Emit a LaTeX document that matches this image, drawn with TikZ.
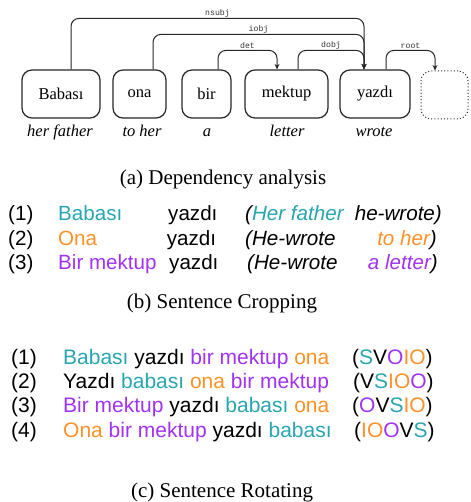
\documentclass[tikz,border=0pt]{standalone}
\usepackage{fontspec}
\setmainfont{Liberation Serif}
\setsansfont{Liberation Sans}
\setmonofont{Liberation Mono}
\usetikzlibrary{arrows.meta}
\definecolor{cteal}{RGB}{40,165,175}
\definecolor{corange}{RGB}{255,145,40}
\definecolor{cpurple}{RGB}{160,50,245}
\begin{document}
\begin{tikzpicture}[x=1pt,y=-1pt,
  word/.style={draw=black!85, rounded corners=10pt, line width=1.2pt, minimum height=48pt, inner sep=0pt, font=\fontsize{16.5}{18}\selectfont},
  gloss/.style={font=\fontsize{16.5}{18}\selectfont\itshape, anchor=base, inner sep=0pt},
  dep/.style={draw=black!85, line width=1pt, rounded corners=8pt, -{Stealth[length=5.5pt,width=5pt]}},
  lab/.style={font=\fontsize{8.2}{9}\selectfont\ttfamily, text=black!80, above, inner sep=1pt},
  captext/.style={font=\fontsize{21}{24}\selectfont, anchor=base, inner sep=0pt},
  exb/.style={font=\sffamily\fontsize{20.6}{24}\selectfont, anchor=base west, inner sep=0pt},
  exc/.style={font=\sffamily\fontsize{21}{24}\selectfont, anchor=base west, inner sep=0pt}]
\useasboundingbox (0,0) rectangle (470,502);

% (a) dependency analysis
\node[word, minimum width=78pt] (babasi) at (61,94) {Babası};
\node[word, minimum width=53pt] (ona) at (139.5,94) {ona};
\node[word, minimum width=49pt] (bir) at (206.5,94) {bir};
\node[word, minimum width=83pt] (mektup) at (286.5,94) {mektup};
\node[word, minimum width=70pt] (yazdi) at (375,94) {yazdı};
\node[word, line width=1pt, dash pattern=on 1pt off 2.2pt, minimum width=47pt] (rootbox) at (444.5,95) {};

\draw[dep] ([xshift=10pt]babasi.north) -- ++(0,-51) -| node[lab,pos=0.25]{nsubj} ([xshift=-11pt]yazdi.north);
\draw[dep] ([xshift=13.5pt]ona.north) -- ++(0,-35) -| node[lab,pos=0.25]{iobj} ([xshift=-11pt]yazdi.north);
\draw[dep] ([xshift=11.5pt]bir.north) -- ++(0,-19) -| node[lab,pos=0.25]{det} ([xshift=-9.5pt]mektup.north);
\draw[dep] ([xshift=11.5pt]mektup.north) -- ++(0,-19) -| node[lab,pos=0.25]{dobj} ([xshift=-11pt]yazdi.north);
\draw[dep] ([xshift=11pt]yazdi.north) -- ++(0,-19) -| node[lab,pos=0.25]{root} ([xshift=-9.5pt]rootbox.north);

\node[gloss] (g1) at (60,137) {her father};
\node[gloss] (g2) at (142,137) {to her};
\node[gloss] (g3) at (207,137) {a};
\node[gloss] (g4) at (287,137) {letter};
\node[gloss] (g5) at (374,137) {wrote};

\node[captext] (capa) at (223,185) {(a) Dependency analysis};

% (b) sentence cropping
\node[exb] (b1n) at (8,221) {(1)};
\node[exb, text=cteal] (b1a) at (58,221) {Babası};
\node[exb] (b1b) at (168,221) {yazdı};
\node[exb] (b1c) at (245,221) {\itshape(\textcolor{cteal}{Her father}};
\node[exb, anchor=base east] (b1d) at (442,221) {\itshape he-wrote)};

\node[exb] (b2n) at (8,245) {(2)};
\node[exb, text=corange] (b2a) at (58,245) {Ona};
\node[exb] (b2b) at (166.7,245) {yazdı};
\node[exb] (b2c) at (245,245) {\itshape(He-wrote};
\node[exb, anchor=base east] (b2d) at (437,245) {\itshape\textcolor{corange}{to her})};

\node[exb] (b3n) at (8,269) {(3)};
\node[exb, text=cpurple] (b3a) at (58,269) {Bir mektup};
\node[exb] (b3b) at (169,269) {yazdı};
\node[exb] (b3c) at (247,269) {\itshape(He-wrote};
\node[exb, anchor=base east] (b3d) at (438,269) {\itshape\textcolor{cpurple}{a letter})};

\node[captext] (capb) at (222,308) {(b) Sentence Cropping};

% (c) sentence rotating
\node[exc] (c1n) at (11,364) {(1)};
\node[exc] (c1a) at (63,364) {\textcolor{cteal}{Babası} yazdı \textcolor{cpurple}{bir mektup} \textcolor{corange}{ona}};
\node[exc] (c1b) at (352,364) {(\textcolor{cteal}{S}V\textcolor{cpurple}{O}\textcolor{corange}{IO})};

\node[exc] (c2n) at (11,388) {(2)};
\node[exc] (c2a) at (63,388) {Yazdı \textcolor{cteal}{babası} \textcolor{corange}{ona} \textcolor{cpurple}{bir mektup}};
\node[exc] (c2b) at (353,388) {(V\textcolor{cteal}{S}\textcolor{corange}{IO}\textcolor{cpurple}{O})};

\node[exc] (c3n) at (11,412) {(3)};
\node[exc] (c3a) at (63,412) {\textcolor{cpurple}{Bir mektup} yazdı \textcolor{cteal}{babası} \textcolor{corange}{ona}};
\node[exc] (c3b) at (352,412) {(\textcolor{cpurple}{O}V\textcolor{cteal}{S}\textcolor{corange}{IO})};

\node[exc] (c4n) at (11,437) {(4)};
\node[exc] (c4a) at (63,437) {\textcolor{corange}{Ona} \textcolor{cpurple}{bir mektup} yazdı \textcolor{cteal}{babası}};
\node[exc] (c4b) at (354,437) {(\textcolor{corange}{IO}\textcolor{cpurple}{O}V\textcolor{cteal}{S})};

\node[captext] (capc) at (222,497) {(c) Sentence Rotating};
\end{tikzpicture}
\end{document}
